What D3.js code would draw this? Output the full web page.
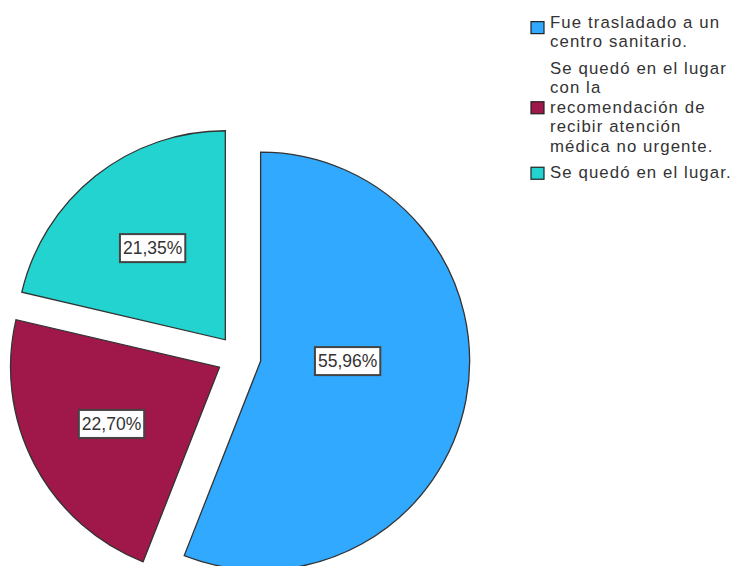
<!DOCTYPE html>
<html>
<head>
<meta charset="utf-8">
<script src="https://cdn.jsdelivr.net/npm/d3@7"></script>
<style>
  body { margin: 0; background: #fff; }
  svg { display: block; font-family: "Liberation Sans", Arial, sans-serif; }
</style>
</head>
<body>
<div id="chart"></div>
<script>
// data
const categories = [
    "Fue trasladado a un centro sanitario.",
    "Se quedó en el lugar con la recomendación de recibir atención médica no urgente.",
    "Se quedó en el lugar."
];
const percentages = [55.96, 22.70, 21.35];
const valueLabels = ["55,96%", "22,70%", "21,35%"];
const legendLines = [
    ["Fue trasladado a un", "centro sanitario."],
    ["Se quedó en el lugar", "con la", "recomendación de", "recibir atención", "médica no urgente."],
    ["Se quedó en el lugar."]
];
const sliceColors = ["#31a9ff", "#a0174a", "#22d3cf"];

let width = 736, height = 566;
let cx = 239, cy = 357, radius = 209, explode = 22;

// label placement per slice (angle override / distance from slice apex)
let labelPlace = [{ a: Math.PI / 2, r: 87 }, { r: 122 }, { r: 117 }];

let svg = d3.select("#chart").append("svg")
    .attr("width", width)
    .attr("height", height);

let pie = d3.pie().sort(null).value(d => d);
let arcs = pie(percentages);
let arc = d3.arc().innerRadius(0).outerRadius(radius);

let pieG = svg.append("g").attr("transform", `translate(${cx},${cy})`);

let slices = pieG.selectAll(".slice")
    .data(arcs)
    .enter().append("g")
    .attr("class", "slice")
    .attr("transform", d => {
        let mid = (d.startAngle + d.endAngle) / 2;
        return `translate(${Math.sin(mid) * explode},${-Math.cos(mid) * explode})`;
    });

slices.append("path")
    .attr("d", arc)
    .attr("fill", (d, i) => sliceColors[i])
    .attr("stroke", "#333")
    .attr("stroke-width", 1.3)
    .attr("stroke-linejoin", "miter");

// value labels with boxes
slices.each(function (d, i) {
    let g = d3.select(this);
    let p = labelPlace[i];
    let a = p.a !== undefined ? p.a : (d.startAngle + d.endAngle) / 2;
    let x = Math.sin(a) * p.r, y = -Math.cos(a) * p.r;
    let lg = g.append("g").attr("transform", `translate(${x},${y})`);
    let rect = lg.append("rect");
    let t = lg.append("text")
        .attr("text-anchor", "middle")
        .attr("dy", "0.36em")
        .attr("fill", "#333")
        .style("font-size", "17.5px")
        .text(valueLabels[i]);
    let bb = t.node().getBBox();
    rect.attr("x", bb.x - 3).attr("y", -14)
        .attr("width", bb.width + 6).attr("height", 28)
        .attr("fill", "#fff")
        .attr("stroke", "#444")
        .attr("stroke-width", 2);
});

// legend
let legendX = 531, lineH = 19.5, itemGap = 7;
let legend = svg.append("g").attr("class", "legend");
let yPos = 13;
legendLines.forEach((lines, i) => {
    let item = legend.append("g");
    let n = lines.length;
    let blockMid = yPos + n * lineH / 2 - (n % 2 === 0 ? lineH / 4 : 0);
    item.append("rect")
        .attr("x", legendX)
        .attr("y", blockMid - 6)
        .attr("width", 13)
        .attr("height", 12)
        .attr("fill", sliceColors[i])
        .attr("stroke", "#222")
        .attr("stroke-width", 1.2);
    let text = item.append("text")
        .attr("x", legendX + 19)
        .attr("y", yPos)
        .attr("fill", "#333")
        .style("font-size", "16.8px")
        .style("letter-spacing", "1.1px");
    lines.forEach((ln, j) => {
        text.append("tspan")
            .attr("x", legendX + 19)
            .attr("y", yPos + j * lineH + 14.5)
            .text(ln);
    });
    yPos += n * lineH + itemGap;
});
</script>
</body>
</html>
